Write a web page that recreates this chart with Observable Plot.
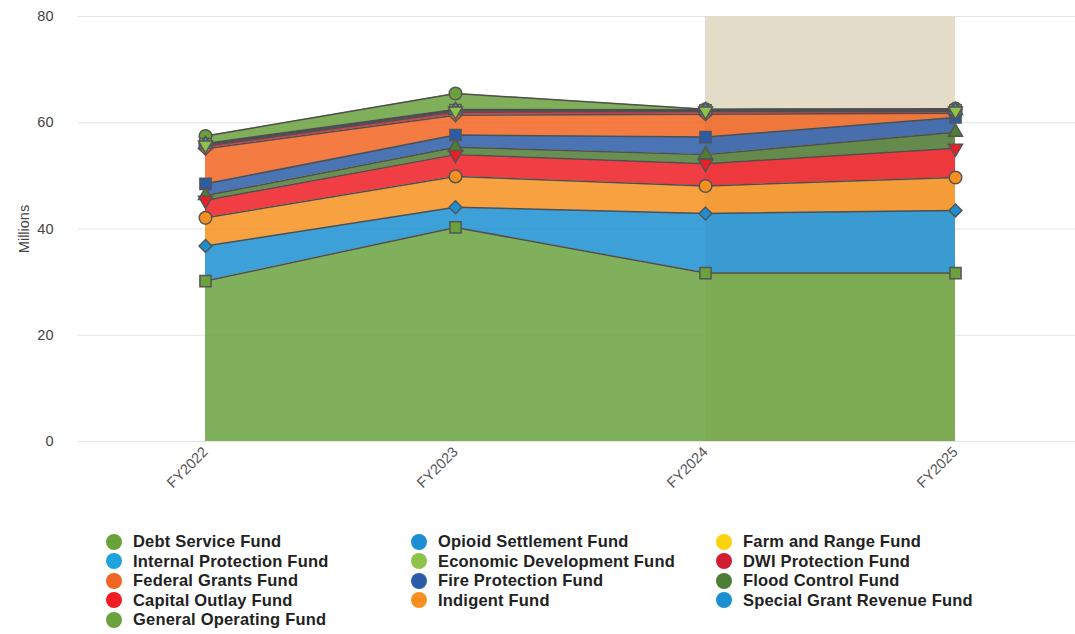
<!DOCTYPE html>
<html><head><meta charset="utf-8">
<script src="https://cdn.jsdelivr.net/npm/d3@7"></script>
<script src="https://cdn.jsdelivr.net/npm/@observablehq/plot@0.6"></script>
<style>
body{margin:0;background:#fff;font-family:"Liberation Sans",Arial,sans-serif;overflow:hidden}
#chart{position:relative;width:1075px;height:634px}
#legend{position:absolute;left:106px;top:532px;display:grid;grid-template-columns:305px 305px 305px;grid-auto-rows:19.5px}
.item{display:flex;align-items:center;font-weight:bold;font-size:16.5px;letter-spacing:0.2px;color:#222;white-space:nowrap}
.sw{width:16px;height:16px;border-radius:50%;margin-right:11px;flex:none}
</style></head>
<body>
<div id="chart"><div id="plot"></div><div id="legend"></div></div>
<script>
// Categories
const years = ["FY2022", "FY2023", "FY2024", "FY2025"];
// Series in legend order (top of stack first)
const funds = [
  "Debt Service Fund", "Opioid Settlement Fund", "Farm and Range Fund",
  "Internal Protection Fund", "Economic Development Fund", "DWI Protection Fund",
  "Federal Grants Fund", "Fire Protection Fund", "Flood Control Fund",
  "Capital Outlay Fund", "Indigent Fund", "Special Grant Revenue Fund",
  "General Operating Fund"
];
const colors = [
  "#69a23c", "#1b8fd2", "#fcd20f",
  "#1da4de", "#8ec24a", "#d01f33",
  "#f26522", "#2b5ca8", "#4e7d35",
  "#ef1c24", "#f7901e", "#1b8fd2",
  "#6aa23e"
];
const markerSymbols = [
  "circle", "diamond2", "square",
  "triangle", "triangle-down", "circle",
  "diamond2", "square", "triangle",
  "triangle-down", "circle", "diamond2",
  "square"
];
// Values in millions, per fund, per year
const debtService       = [1.4, 3.0, 0.1, 0.2];
const opioidSettlement  = [0.1, 0.1, 0.1, 0.1];
const farmAndRange      = [0.1, 0.1, 0.05, 0.05];
const internalProtection= [0.1, 0.1, 0.1, 0.1];
const economicDev       = [0.2, 0.2, 0.1, 0.1];
const dwiProtection     = [0.5, 0.6, 0.5, 0.3];
const federalGrants     = [6.6, 3.7, 4.3, 0.8];
const fireProtection    = [2.2, 2.3, 3.3, 2.8];
const floodControl      = [0.9, 1.4, 1.7, 3.0];
const capitalOutlay     = [3.3, 4.1, 4.2, 5.5];
const indigent          = [5.3, 5.8, 5.2, 6.2];
const specialGrant      = [6.6, 3.8, 11.2, 11.8];
const generalOperating  = [30.2, 40.3, 31.7, 31.7];
const values = [debtService, opioidSettlement, farmAndRange, internalProtection, economicDev,
  dwiProtection, federalGrants, fireProtection, floodControl, capitalOutlay, indigent,
  specialGrant, generalOperating];
const yTicks = [0, 20, 40, 60, 80];
const bandFrom = "FY2024", bandTo = "FY2025";

const data = years.flatMap((yr, i) => funds.map((f, j) => ({year: yr, fund: f, value: values[j][i], sym: markerSymbols[j]})));
const stackOrder = funds.slice().reverse();

const plot = Plot.plot({
  width: 1075, height: 530,
  marginLeft: 78, marginRight: 0, marginTop: 16, marginBottom: 89,
  style: {fontFamily: "'Liberation Sans', Arial, sans-serif", fontSize: "13px", color: "#555", background: "transparent", overflow: "visible"},
  x: {type: "point", domain: years, padding: 0.5, insetRight: -6, label: null},
  y: {domain: [0, 80], label: null},
  r: {type: "identity"},
  color: {domain: funds, range: colors},
  marks: [
    Plot.ruleY(yTicks, {stroke: "#e3e3e3", strokeWidth: 1}),
    Plot.rect([{from: bandFrom, to: bandTo}], {x1: "from", x2: "to", y1: 0, y2: 80, fill: "#e2dcc8"}),
    Plot.areaY(data, {x: "year", y: "value", z: "fund", fill: "fund", fillOpacity: 0.85, order: stackOrder}),
    Plot.lineY(data, Plot.stackY2({x: "year", y: "value", z: "fund", order: stackOrder, stroke: "#4f4f4f", strokeWidth: 1.5})),
    Plot.dot(data, Plot.stackY2({
      x: "year", y: "value", z: "fund", order: stackOrder,
      fill: "fund",
      symbol: d => d.sym.startsWith("triangle") ? "triangle" : d.sym,
      rotate: d => d.sym === "triangle-down" ? 180 : 0,
      r: d => d.sym.startsWith("triangle") ? 5.2 : d.sym === "diamond2" ? 5.8 : 6.3,
      stroke: "#555", strokeWidth: 1.5
    })),
    Plot.axisY({ticks: yTicks, tickSize: 0, tickPadding: 25, fontSize: 14.5, fill: "#444",
      label: "Millions", labelAnchor: "center", labelArrow: "none", labelOffset: 60}),
    Plot.axisX({tickRotate: -45, tickSize: 0, tickPadding: 8, fontSize: 14.5, fill: "#555", label: null})
  ]
});
document.getElementById("plot").appendChild(plot);

const legend = document.getElementById("legend");
funds.forEach((f, i) => {
  const it = document.createElement("div");
  it.className = "item";
  const sw = document.createElement("span");
  sw.className = "sw";
  sw.style.background = colors[i];
  it.appendChild(sw);
  it.appendChild(document.createTextNode(f));
  legend.appendChild(it);
});
</script>
</body></html>
